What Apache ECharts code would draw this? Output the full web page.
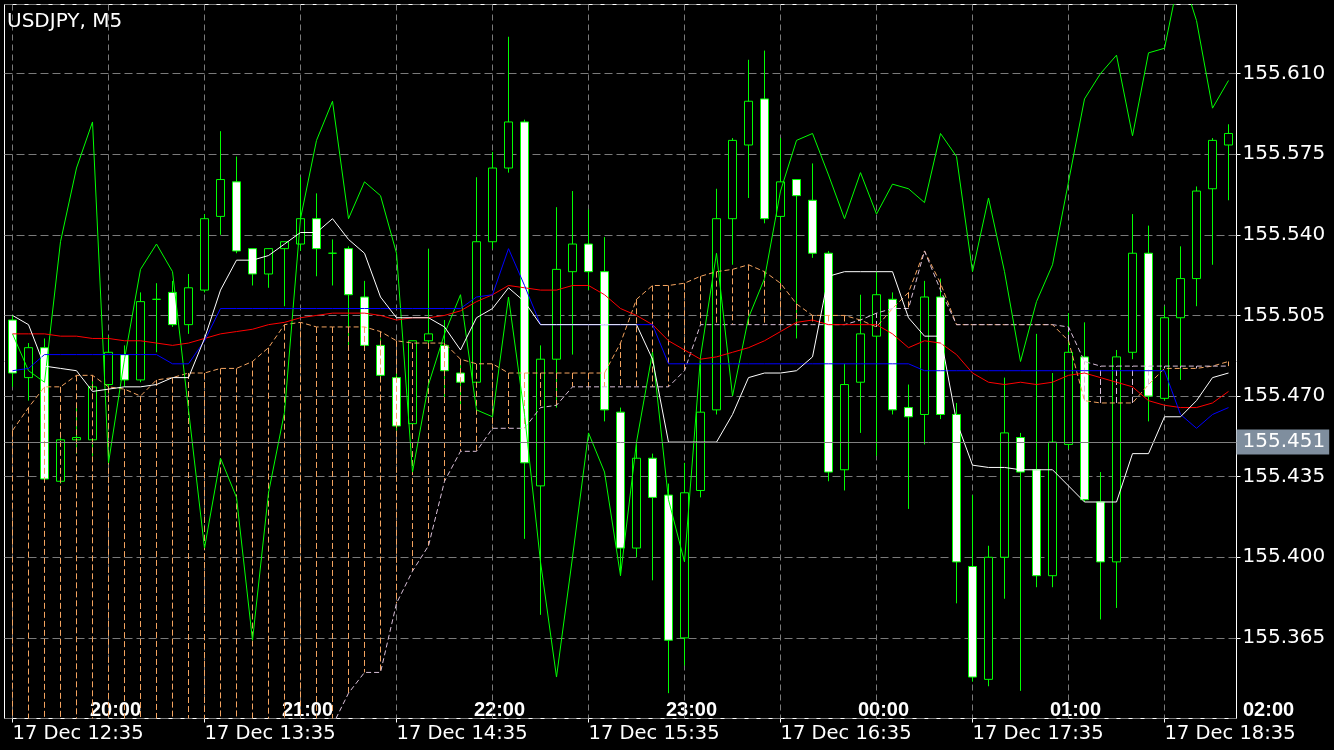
<!DOCTYPE html>
<html><head><meta charset="utf-8">
<script src="https://cdn.jsdelivr.net/npm/echarts@6/dist/echarts.min.js"></script>
<style>html,body{margin:0;padding:0;background:#000;}#c{width:1334px;height:750px;}</style>
</head><body><div id="c"></div>
<script>
// ---- tick labels ----
const dateLabels = ['17 Dec 12:35','17 Dec 13:35','17 Dec 14:35','17 Dec 15:35','17 Dec 16:35','17 Dec 17:35','17 Dec 18:35'];
const timeLabels = ['20:00','21:00','22:00','23:00','00:00','01:00','02:00'];
const vGridIdx = [0,6,12,18,24,30,36,42,48,54,60,66,72];
const bidPrice = 155.451;

// ---- categories (77 five-minute bars) ----
const categories = [];
for (let i = 0; i < 77; i++) {
  const m = 12*60 + 35 + 5*i;
  categories.push('17 Dec ' + String(Math.floor(m/60)).padStart(2,'0') + ':' + String(m%60).padStart(2,'0'));
}

// ---- OHLC ----
const opens = [155.503,155.478,155.491,155.433,155.451,155.451,155.475,155.488,155.477,155.512,
155.515,155.501,155.516,155.548,155.563,155.534,155.523,155.534,155.536,155.547,
155.532,155.534,155.513,155.492,155.478,155.458,155.494,155.492,155.480,155.476,
155.537,155.569,155.589,155.431,155.486,155.524,155.536,155.524,155.463,155.404,
155.443,155.427,155.365,155.429,155.464,155.547,155.579,155.599,155.548,155.564,
155.555,155.532,155.438,155.476,155.496,155.512,155.465,155.462,155.513,155.462,
155.396,155.347,155.400,155.452,155.438,155.392,155.449,155.487,155.424,155.398,
155.489,155.532,155.469,155.504,155.521,155.560,155.579];
const closes = [155.480,155.491,155.434,155.451,155.452,155.474,155.489,155.477,155.511,155.512,
155.501,155.517,155.547,155.564,155.533,155.523,155.534,155.537,155.547,155.534,
155.532,155.514,155.492,155.479,155.457,155.494,155.497,155.481,155.476,155.537,
155.569,155.589,155.441,155.486,155.525,155.536,155.524,155.464,155.404,155.443,
155.426,155.364,155.428,155.463,155.547,155.581,155.598,155.547,155.563,155.557,
155.532,155.437,155.475,155.497,155.514,155.464,155.461,155.513,155.462,155.398,
155.348,155.400,155.454,155.437,155.392,155.450,155.489,155.425,155.398,155.487,
155.532,155.470,155.504,155.521,155.559,155.581,155.584];
const lows = [155.474,155.468,155.433,155.432,155.445,155.444,155.471,155.474,155.476,155.489,
155.500,155.497,155.515,155.540,155.532,155.518,155.517,155.509,155.533,155.522,
155.518,155.491,155.491,155.478,155.455,155.457,155.492,155.469,155.466,155.475,
155.534,155.567,155.408,155.375,155.465,155.488,155.516,155.459,155.392,155.400,
155.390,155.341,155.353,155.426,155.462,155.527,155.556,155.545,155.516,155.495,
155.530,155.433,155.429,155.454,155.444,155.462,155.421,155.449,155.460,155.380,
155.346,155.344,155.382,155.342,155.387,155.387,155.447,155.424,155.373,155.378,
155.486,155.459,155.468,155.477,155.509,155.527,155.555];
const highs = [155.505,155.493,155.495,155.452,155.465,155.478,155.496,155.492,155.515,155.519,
155.520,155.523,155.549,155.585,155.574,155.534,155.534,155.537,155.565,155.558,
155.538,155.535,155.520,155.495,155.480,155.494,155.534,155.503,155.486,155.565,
155.576,155.626,155.590,155.492,155.552,155.559,155.551,155.539,155.465,155.449,
155.445,155.432,155.441,155.485,155.560,155.582,155.616,155.620,155.582,155.564,
155.571,155.533,155.484,155.514,155.524,155.515,155.475,155.520,155.521,155.467,
155.427,155.405,155.478,155.454,155.497,155.480,155.506,155.502,155.437,155.490,
155.549,155.544,155.509,155.535,155.561,155.582,155.588];

// ---- indicator lines ----
const whiteLine = [155.505,155.501,155.483,155.482,155.481,155.472,155.473,155.474,155.474,155.475,
155.478,155.478,155.495,155.516,155.529,155.529,155.531,155.536,155.541,155.541,
155.547,155.538,155.532,155.513,155.504,155.504,155.504,155.500,155.490,155.504,
155.508,155.517,155.511,155.501,155.501,155.501,155.501,155.501,155.501,155.501,
155.486,155.450,155.450,155.450,155.450,155.462,155.478,155.480,155.480,155.481,
155.487,155.522,155.524,155.524,155.524,155.524,155.504,155.496,155.496,155.459,
155.440,155.439,155.439,155.438,155.438,155.438,155.431,155.424,155.424,155.424,
155.445,155.445,155.461,155.461,155.468,155.478,155.480];
const blueLine = [155.481,155.482,155.488,155.488,155.488,155.488,155.488,155.488,155.488,155.488,
155.484,155.484,155.494,155.508,155.508,155.508,155.508,155.508,155.508,155.508,
155.508,155.508,155.508,155.508,155.508,155.508,155.508,155.508,155.508,155.513,
155.514,155.534,155.518,155.501,155.501,155.501,155.501,155.501,155.501,155.501,
155.501,155.484,155.484,155.484,155.484,155.484,155.484,155.484,155.484,155.484,
155.484,155.484,155.484,155.484,155.484,155.484,155.484,155.481,155.481,155.481,
155.481,155.481,155.481,155.481,155.481,155.481,155.481,155.481,155.481,155.481,
155.481,155.481,155.481,155.462,155.456,155.462,155.465];
const redLine = [155.497,155.497,155.497,155.496,155.496,155.495,155.495,155.494,155.494,155.493,
155.492,155.493,155.495,155.497,155.498,155.499,155.501,155.502,155.504,155.505,
155.506,155.506,155.506,155.505,155.503,155.504,155.504,155.505,155.507,155.511,
155.514,155.518,155.517,155.516,155.516,155.518,155.518,155.514,155.508,155.505,
155.501,155.494,155.490,155.486,155.487,155.489,155.491,155.494,155.498,155.502,
155.503,155.501,155.501,155.501,155.501,155.497,155.491,155.494,155.493,155.488,
155.480,155.476,155.475,155.476,155.475,155.476,155.479,155.480,155.478,155.476,
155.474,155.468,155.466,155.465,155.465,155.467,155.472];
// chikou: close shifted back 26 bars, then the part read beyond the last close
const chikouTail = [155.566,155.547,155.567,155.549,155.562,155.560,155.554,155.584,155.574,155.524,
155.556,155.524,155.485,155.511,155.527,155.563,155.599,155.610,155.618,155.583,
155.619,155.621,155.655,155.633,155.595,155.607];
const chikou = closes.slice(26).concat(chikouTail);
const senkouA = [155.455,155.465,155.474,155.474,155.479,155.479,155.474,155.473,155.470,155.477,
155.478,155.480,155.480,155.482,155.482,155.485,155.491,155.501,155.502,155.500,
155.500,155.500,155.500,155.498,155.494,155.493,155.493,155.493,155.486,155.484,
155.484,155.480,155.480,155.480,155.480,155.480,155.480,155.480,155.493,155.512,
155.518,155.518,155.519,155.522,155.524,155.525,155.527,155.524,155.519,155.510,
155.505,155.505,155.505,155.503,155.500,155.508,155.515,155.533,155.519,155.501,
155.501,155.501,155.501,155.501,155.501,155.501,155.494,155.468,155.467,155.467,
155.467,155.475,155.482,155.482,155.482,155.483,155.485];
const senkouB = [155.300,155.300,155.300,155.300,155.300,155.300,155.300,155.300,155.300,155.300,
155.300,155.300,155.300,155.300,155.300,155.300,155.300,155.300,155.300,155.300,
155.327,155.341,155.350,155.350,155.380,155.394,155.405,155.433,155.446,155.446,
155.456,155.456,155.456,155.465,155.466,155.474,155.474,155.474,155.474,155.474,
155.474,155.474,155.481,155.501,155.501,155.501,155.501,155.501,155.501,155.501,
155.501,155.501,155.501,155.503,155.506,155.508,155.508,155.533,155.516,155.501,
155.501,155.501,155.501,155.501,155.501,155.501,155.500,155.485,155.483,155.483,
155.483,155.483,155.483,155.483,155.483,155.483,155.483];

const ohlc = opens.map((o, i) => [o, closes[i], lows[i], highs[i]]);
const SANDY = '#F4A460', THISTLE = '#D8BFD8';

const chart = echarts.init(document.getElementById('c'), null, {renderer: 'canvas'});
const lineS = (data, color, extra) => Object.assign({
  type: 'line', data: data, symbol: 'none', silent: true, z: 4,
  lineStyle: {color: color, width: 1}, clip: true
}, extra || {});

chart.setOption({
  backgroundColor: '#000',
  animation: false,
  title: [
    {text: 'USDJPY, M5', left: 7, top: 12, padding: 0,
     textStyle: {color: '#fff', fontSize: 20, fontWeight: 'normal', fontFamily: 'DejaVu Sans'}},
    {text: timeLabels[6], left: 1243, top: 700, padding: 0,
     textStyle: {color: '#fff', fontSize: 20, fontWeight: 'bold', fontFamily: 'Liberation Sans'}}
  ],
  grid: {left: 4.5, top: 4.5, width: 1232, height: 714, show: true, borderColor: '#fff', borderWidth: 1, backgroundColor: 'transparent'},
  xAxis: [
    {type: 'category', data: categories, boundaryGap: true,
     axisLine: {show: false},
     axisTick: {show: true, alignWithLabel: true, length: 4, lineStyle: {color: '#fff'},
                interval: (idx) => idx % 12 === 0},
     axisLabel: {interval: (idx) => idx % 12 === 0, align: 'left', margin: 5,
                 color: '#fff', fontSize: 19.5, fontFamily: 'DejaVu Sans',
                 formatter: (v, idx) => dateLabels[idx / 12]},
     splitLine: {show: false}},
    {type: 'category', data: categories, boundaryGap: true, position: 'bottom', offset: 0,
     axisLine: {show: false}, axisTick: {show: false}, splitLine: {show: false},
     axisLabel: {inside: true, interval: (idx) => idx % 12 === 6, margin: -2,
                 align: 'center', padding: [0, 0, 0, 14],
                 color: '#fff', fontSize: 20, fontWeight: 'bold', fontFamily: 'Liberation Sans',
                 formatter: (v, idx) => timeLabels[(idx - 6) / 12]}}
  ],
  yAxis: {
    type: 'value', position: 'right', min: 155.330, max: 155.640, interval: 0.035, scale: true,
    axisLine: {show: false},
    axisTick: {show: true, length: 4, lineStyle: {color: '#fff'}},
    axisLabel: {color: '#fff', fontSize: 20, fontFamily: 'DejaVu Sans', margin: 6,
                showMinLabel: false, showMaxLabel: false, formatter: (v) => v.toFixed(3)},
    splitLine: {show: true, lineStyle: {color: '#7a7a7a', width: 1, type: [8, 4]}}
  },
  series: [
    {type: 'custom', name: 'vgrid', z: 1, silent: true, clip: true,
     data: vGridIdx.map(i => [i, 155.5]), encode: {x: 0, y: 1},
     renderItem: (params, api) => {
       const x = Math.floor(api.coord([api.value(0), api.value(1)])[0]) + 0.5;
       const cs = params.coordSys;
       return {type: 'line', shape: {x1: x, y1: cs.y, x2: x, y2: cs.y + cs.height},
               style: {stroke: '#7a7a7a', lineWidth: 1, lineDash: [6, 4]}};
     }},
    {type: 'candlestick', name: 'USDJPY', data: ohlc, barWidth: 8, z: 2, silent: true,
     itemStyle: {color: '#000', color0: '#fff', borderColor: '#00ff00', borderColor0: '#00ff00', borderWidth: 1},
     markLine: {silent: true, symbol: 'none', animation: false,
       data: [{yAxis: bidPrice}],
       lineStyle: {color: '#808080', width: 1, type: 'solid'},
       label: {show: true, position: 'end', distance: 0, formatter: bidPrice.toFixed(3),
               color: '#fff', backgroundColor: '#7f8e9e', padding: [3, 4, 2, 6],
               fontSize: 20, fontFamily: 'DejaVu Sans'}}},
    {type: 'custom', name: 'kumo', z: 3, silent: true, clip: true,
     data: senkouA.map((a, i) => [i, a, senkouB[i]]), encode: {x: 0, y: [1, 2]},
     renderItem: (params, api) => {
       const i = api.value(0), a = api.value(1), b = api.value(2);
       const p1 = api.coord([i, a]), p2 = api.coord([i, b]);
       const x = Math.floor(p1[0]) + 0.5;
       return {type: 'line', shape: {x1: x, y1: p1[1], x2: x, y2: p2[1]},
               style: {stroke: a >= b ? SANDY : THISTLE, lineWidth: 1, lineDash: [6, 3]}};
     }},
    lineS(senkouA, SANDY, {lineStyle: {color: SANDY, width: 1, type: [5, 3]}}),
    lineS(senkouB, THISTLE, {lineStyle: {color: THISTLE, width: 1, type: [5, 3]}}),
    lineS(chikou, '#00ff00'),
    lineS(redLine, '#ff0000'),
    lineS(blueLine, '#0000ff'),
    lineS(whiteLine, '#ffffff')
  ]
});
</script></body></html>
